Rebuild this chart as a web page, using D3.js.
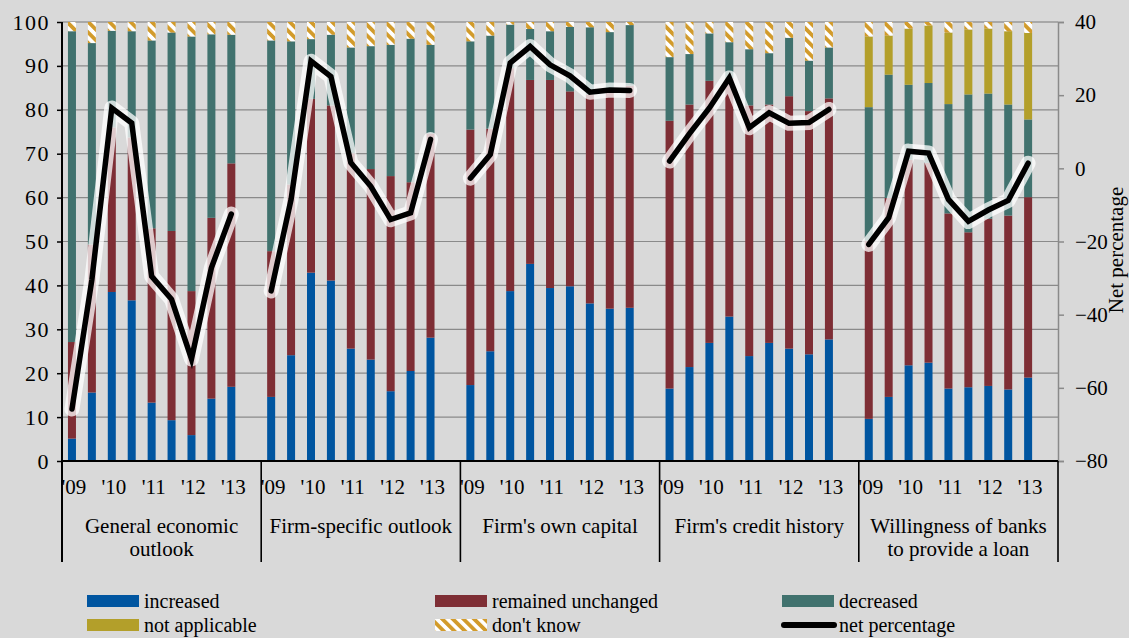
<!DOCTYPE html>
<html>
<head>
<meta charset="utf-8">
<script src="https://cdn.jsdelivr.net/npm/d3@7"></script>
<style>
  html, body { margin: 0; padding: 0; background: #d9d9d9; }
  svg { display: block; }
  svg text { font-family: "Liberation Serif", "Times New Roman", "DejaVu Serif", serif !important; fill: #000; }
</style>
</head>
<body>
<svg id="chart" width="1129" height="638"></svg>
<script>
// Survey factors (one group of half-yearly bars each)
const categories = [
  ["General economic", "outlook"],
  ["Firm-specific outlook"],
  ["Firm's own capital"],
  ["Firm's credit history"],
  ["Willingness of banks", "to provide a loan"]
];
const periods = ["09H1", "09H2", "10H1", "10H2", "11H1", "11H2", "12H1", "12H2", "13H1"];
const tickLabels = ["'09", null, "'10", null, "'11", null, "'12", null, "'13"];

// Percentages of firms, per factor, per survey round
const increased = [
  [5.1, 15.6, 38.5, 36.6, 13.3, 9.3, 5.9, 14.2, 16.9],
  [14.6, 24.1, 42.9, 41.1, 25.6, 23.1, 15.9, 20.5, 28.1],
  [17.3, 25.0, 38.7, 44.9, 39.4, 39.8, 35.9, 34.7, 34.9],
  [16.5, 21.4, 26.9, 32.9, 23.9, 26.9, 25.6, 24.3, 27.7],
  [9.6, 14.6, 21.8, 22.4, 16.5, 16.8, 17.1, 16.3, 19.0]
];
const unchanged = [
  [22.0, 33.7, 37.5, 37.1, 39.7, 43.1, 32.8, 41.2, 50.9],
  [33.2, 38.9, 39.6, 39.9, 44.5, 43.4, 49.0, 43.0, 46.5],
  [58.2, 50.7, 50.8, 41.9, 47.4, 44.4, 47.6, 49.8, 50.6],
  [61.0, 59.8, 59.7, 54.3, 57.1, 54.3, 57.5, 55.4, 54.9],
  [40.6, 45.3, 46.8, 45.5, 39.9, 35.3, 38.1, 39.6, 41.1]
];
const decreased = [
  [70.8, 45.9, 22.0, 24.2, 42.8, 45.2, 58.0, 41.8, 29.3],
  [48.0, 32.6, 13.6, 16.1, 24.1, 28.0, 29.9, 32.7, 20.2],
  [20.1, 21.2, 9.9, 11.6, 11.1, 14.7, 15.3, 13.2, 13.8],
  [14.5, 11.5, 10.8, 8.2, 12.8, 11.7, 13.3, 11.5, 11.6],
  [30.4, 28.1, 17.1, 18.2, 24.9, 31.4, 28.5, 25.3, 17.7]
];
const notApplicable = [
  [0, 0, 0, 0, 0, 0, 0, 0, 0],
  [0, 0, 0, 0, 0, 0, 0, 0, 0],
  [0, 0, 0, 0, 0, 0, 0, 0, 0],
  [0, 0, 0, 0, 0, 0, 0, 0, 0],
  [16.1, 8.9, 12.8, 13.1, 16.3, 14.8, 14.8, 16.7, 19.7]
];
const dontKnow = [
  [2.1, 4.8, 2.0, 2.1, 4.2, 2.4, 3.3, 2.8, 2.9],
  [4.2, 4.4, 3.9, 2.9, 5.8, 5.5, 5.2, 3.8, 5.2],
  [4.4, 3.1, 0.6, 1.6, 2.1, 1.1, 1.2, 2.3, 0.7],
  [8.0, 7.3, 2.6, 4.6, 6.2, 7.1, 3.6, 8.8, 5.8],
  [3.3, 3.1, 1.5, 0.8, 2.4, 1.7, 1.5, 2.1, 2.5]
];
// Net percentage (right axis)
const netPercentage = [
  [-65.8, -30.4, 16.5, 12.4, -29.5, -35.8, -52.1, -27.2, -12.5],
  [-33.5, -8.5, 29.3, 25.1, 1.5, -4.9, -14.0, -12.2, 7.9],
  [-2.7, 3.8, 28.8, 33.3, 28.3, 25.3, 20.8, 21.4, 21.3],
  [2.0, 9.5, 16.5, 24.7, 11.1, 15.2, 12.3, 12.5, 16.1],
  [-20.8, -13.5, 4.7, 4.2, -8.5, -14.5, -11.4, -8.8, 1.4]
];

const seriesKeys = ["increased", "unchanged", "decreased", "notApplicable", "dontKnow"];
const seriesData = { increased, unchanged, decreased, notApplicable, dontKnow };
const seriesNames = {
  increased: "increased", unchanged: "remained unchanged", decreased: "decreased",
  notApplicable: "not applicable", dontKnow: "don't know"
};
const colors = {
  increased: "#0055a0", unchanged: "#7e2e35", decreased: "#41726e",
  notApplicable: "#b39f2a", dontKnow: "url(#dkStripes)"
};

const FONT = "'Liberation Serif', 'Times New Roman', serif";
const svg = d3.select("#chart");
const plot = { left: 62, right: 1058, top: 22, bottom: 461 };

// Stripe fill used for "don't know"
const defs = svg.append("defs");
const pat = defs.append("pattern")
  .attr("id", "dkStripes").attr("patternUnits", "userSpaceOnUse")
  .attr("width", 7.5).attr("height", 7.5)
  .attr("patternTransform", "rotate(-45)");
pat.append("rect").attr("width", 7.5).attr("height", 7.5).attr("fill", "#ffffff");
pat.append("rect").attr("width", 3.8).attr("height", 7.5).attr("fill", "#d29b2b");

// Flat rows: one per bar
const rows = [];
categories.forEach((c, g) => {
  periods.forEach((p, i) => {
    const r = { key: g + "-" + i, group: g, idx: i };
    seriesKeys.forEach(k => r[k] = seriesData[k][g][i]);
    r.net = netPercentage[g][i];
    rows.push(r);
  });
});

// Scales
const x0 = d3.scaleBand().domain(d3.range(categories.length))
  .range([plot.left, plot.right]).padding(0);
const slots = d3.range(periods.length + 1); // last slot left empty as a gap
const x1 = d3.scaleBand().domain(slots).range([0, x0.bandwidth()]).padding(0);
const barW = 8;
const cx = (g, i) => x0(g) + x1(i) + x1.bandwidth() / 2;

const y = d3.scaleLinear().domain([0, 100]).range([plot.bottom, plot.top]);
const y2 = d3.scaleLinear().domain([-80, 40]).range([plot.bottom, plot.top]);

// Gridlines
const yTicks = d3.range(0, 101, 10);
svg.append("g").selectAll("line")
  .data(yTicks.filter(t => t > 0))
  .join("line")
  .attr("x1", plot.left).attr("x2", plot.right)
  .attr("y1", d => y(d)).attr("y2", d => y(d))
  .attr("stroke", d => d === 100 ? "#a8a8a8" : "#8a8a8a")
  .attr("stroke-width", d => d === 100 ? 2 : 1.2);

// Stacked bars
const stack = d3.stack().keys(seriesKeys);
const stacked = stack(rows);
svg.append("g").selectAll("g")
  .data(stacked)
  .join("g")
  .attr("fill", d => colors[d.key])
  .selectAll("rect")
  .data(d => d)
  .join("rect")
  .attr("x", d => cx(d.data.group, d.data.idx) - barW / 2)
  .attr("width", barW)
  .attr("y", d => y(d[1]))
  .attr("height", d => Math.max(0, y(d[0]) - y(d[1])));

// Left axis
const axL = svg.append("g").attr("transform", `translate(${plot.left},0)`)
  .call(d3.axisLeft(y).tickValues(yTicks).tickSize(5).tickPadding(7));
axL.attr("font-family", FONT).attr("font-size", 22);
axL.select(".domain").remove();
axL.selectAll(".tick line").attr("stroke", "#000").attr("stroke-width", 1.5);
axL.selectAll("text").style("font-size", "22px").style("letter-spacing", "1.5px");

// Right axis
const axR = svg.append("g").attr("transform", `translate(${plot.right},0)`)
  .call(d3.axisRight(y2).tickValues(d3.range(-80, 41, 20)).tickSize(6).tickPadding(11));
axR.attr("font-family", FONT).attr("font-size", 21);
axR.select(".domain").attr("stroke", "#8a8a8a").attr("stroke-width", 1.5);
axR.selectAll(".tick line").attr("stroke", "#8a8a8a").attr("stroke-width", 1.5);
axR.selectAll("text").style("font-size", "21px");

svg.append("text")
  .attr("transform", `translate(1116,250) rotate(-90)`)
  .attr("text-anchor", "middle").attr("dy", "0.35em")
  .style("font-size", "21px")
  .text("Net percentage");

// Left axis line (runs down into the category area) and baseline
svg.append("line")
  .attr("x1", plot.left).attr("x2", plot.left)
  .attr("y1", plot.top).attr("y2", 562)
  .attr("stroke", "#000").attr("stroke-width", 2);
svg.append("line")
  .attr("x1", plot.left).attr("x2", plot.right)
  .attr("y1", plot.bottom).attr("y2", plot.bottom)
  .attr("stroke", "#000").attr("stroke-width", 2.2);

// Group dividers
svg.append("g").selectAll("line")
  .data(d3.range(1, categories.length + 1))
  .join("line")
  .attr("x1", g => g < categories.length ? x0(g) : plot.right)
  .attr("x2", g => g < categories.length ? x0(g) : plot.right)
  .attr("y1", plot.bottom).attr("y2", 562)
  .attr("stroke", "#000").attr("stroke-width", 1.6);

// Year labels
svg.append("g").selectAll("text")
  .data(rows.filter(r => tickLabels[r.idx]))
  .join("text")
  .attr("x", r => cx(r.group, r.idx) + 2)
  .attr("y", 487).attr("dy", "0.35em")
  .attr("text-anchor", "middle")
  .style("font-size", "21px")
  .text(r => tickLabels[r.idx]);

// Category labels
const catG = svg.append("g").selectAll("text")
  .data(categories)
  .join("text")
  .attr("x", (c, g) => x0(g) + x0.bandwidth() / 2)
  .attr("y", 526)
  .attr("text-anchor", "middle")
  .style("font-size", "21px");
catG.selectAll("tspan")
  .data(c => c)
  .join("tspan")
  .attr("x", function () { return this.parentNode.getAttribute("x"); })
  .attr("dy", (d, i) => i === 0 ? "0.35em" : "1.1em")
  .text(d => d);

// Net percentage lines, one per group, with a light halo
const line = d3.line()
  .x(r => cx(r.group, r.idx))
  .y(r => y2(r.net));
const netG = svg.append("g");
categories.forEach((c, g) => {
  const pts = rows.filter(r => r.group === g);
  netG.append("path").datum(pts)
    .attr("d", line).attr("fill", "none")
    .attr("stroke", "#ffffff").attr("stroke-opacity", 0.75)
    .attr("stroke-width", 15).attr("stroke-linejoin", "round").attr("stroke-linecap", "round");
  netG.append("path").datum(pts)
    .attr("d", line).attr("fill", "none")
    .attr("stroke", "#000").attr("stroke-width", 5.5)
    .attr("stroke-linejoin", "miter").attr("stroke-linecap", "round");
});

// Legend
const legendItems = [
  { key: "increased", col: 0, row: 0 },
  { key: "unchanged", col: 1, row: 0 },
  { key: "decreased", col: 2, row: 0 },
  { key: "notApplicable", col: 0, row: 1 },
  { key: "dontKnow", col: 1, row: 1 },
  { key: "net", col: 2, row: 1 }
];
const colX = [87, 435, 782];
const rowY = [601, 625];
const lg = svg.append("g").selectAll("g")
  .data(legendItems)
  .join("g")
  .attr("transform", d => `translate(${colX[d.col]},${rowY[d.row]})`);
lg.filter(d => d.key !== "net").append("rect")
  .attr("x", 0).attr("y", -6).attr("width", 52).attr("height", 12)
  .attr("fill", d => colors[d.key]);
lg.filter(d => d.key === "net").append("line")
  .attr("x1", 2).attr("x2", 52).attr("y1", 0).attr("y2", 0)
  .attr("stroke", "#000").attr("stroke-width", 6).attr("stroke-linecap", "round");
lg.append("text")
  .attr("x", 57).attr("dy", "0.35em")
  .style("font-size", "20px")
  .text(d => d.key === "net" ? "net percentage" : seriesNames[d.key]);
</script>
</body>
</html>
